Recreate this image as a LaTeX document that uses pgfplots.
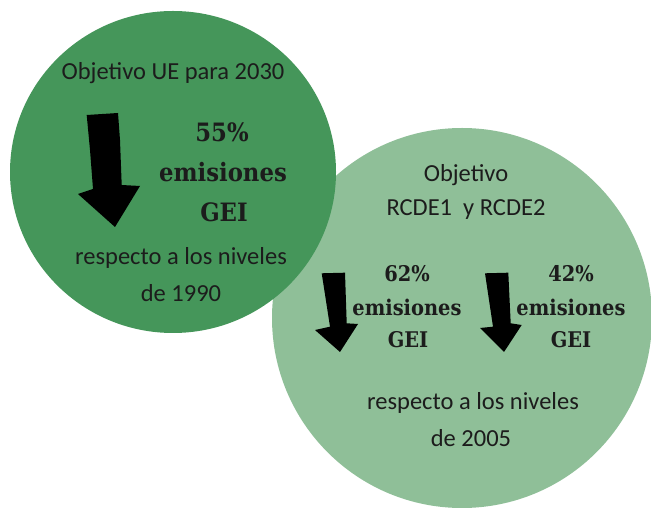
\documentclass[border=0pt]{standalone}
\usepackage{pgfplots}
\pgfplotsset{compat=1.18}
\usepackage{fontspec}
\setmainfont{Carlito}
\newfontfamily\slab{DejaVuSerifCondensed-Bold.ttf}
\definecolor{dkgreen}{RGB}{69,150,90}
\definecolor{ltgreen}{RGB}{143,191,152}
\definecolor{txt}{RGB}{28,28,28}
\newcommand{\calfont}{\fontsize{24.5bp}{28bp}\selectfont}
\newcommand{\bigslab}{\slab\fontsize{25.3bp}{29bp}\selectfont}
\newcommand{\smslab}{\slab\fontsize{21.6bp}{25bp}\selectfont}
\begin{document}
\begin{tikzpicture}
\begin{axis}[scale only axis, width=651bp, height=508bp,
  xmin=0, xmax=651, ymin=0, ymax=508, hide axis, clip mode=global]
\coordinate (A) at (rel axis cs:0,0);
\coordinate (B) at (rel axis cs:1,1);
% circles
\fill[ltgreen] (axis cs:462,190) ellipse [x radius=190, y radius=190];
\fill[dkgreen] (axis cs:173,336) ellipse [x radius=163, y radius=161];
% arrows
\addplot[fill=black, draw=none] coordinates {(86.7,393) (118,395) (120,368) (121.7,323) (140,322) (115,281) (78,314) (93,319) (90,358)} -- cycle;
\addplot[fill=black, draw=none] coordinates {(321.7,234.7) (345,235.3) (346.7,184.7) (358,184) (340,156) (315,178) (330,181.3)} -- cycle;
\addplot[fill=black, draw=none] coordinates {(485,234.7) (508.3,235.3) (510.7,184.7) (521.7,183) (504,156) (480,180) (493,181.3)} -- cycle;
% texts
\begin{scope}[every node/.style={text=txt, inner sep=0pt}]
\node[font=\calfont] at (axis cs:173,435) {Objetivo UE para 2030};
\node[font=\bigslab] at (axis cs:222,376) {55\%};
\node[font=\bigslab] at (axis cs:223,336) {emisiones};
\node[font=\bigslab] at (axis cs:224,296) {GEI};
\node[font=\calfont] at (axis cs:181,250) {respecto a los niveles};
\node[font=\calfont] at (axis cs:181,215) {de 1990};
\node[font=\calfont] at (axis cs:466,333) {Objetivo};
\node[font=\calfont] at (axis cs:466,298) {RCDE1\ \ y RCDE2};
\node[font=\smslab] at (axis cs:407,234) {62\%};
\node[font=\smslab] at (axis cs:407,201) {emisiones};
\node[font=\smslab] at (axis cs:408,168) {GEI};
\node[font=\smslab] at (axis cs:571,234) {42\%};
\node[font=\smslab] at (axis cs:571,201) {emisiones};
\node[font=\smslab] at (axis cs:571,168) {GEI};
\node[font=\calfont] at (axis cs:473,105) {respecto a los niveles};
\node[font=\calfont] at (axis cs:471,70) {de 2005};
\end{scope}
\end{axis}
\pgfresetboundingbox
\path (A) rectangle (B);
\end{tikzpicture}
\end{document}
